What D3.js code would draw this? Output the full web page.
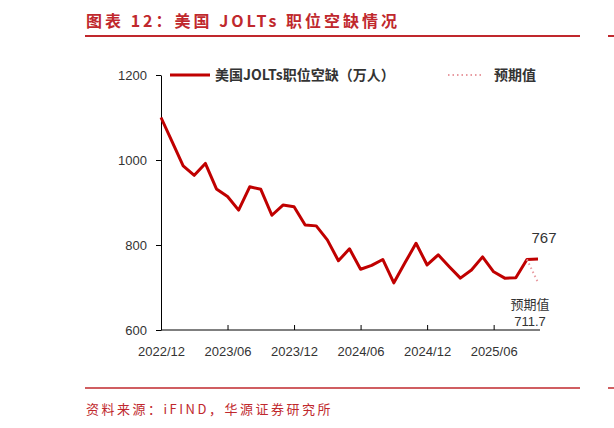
<!DOCTYPE html><html><head><meta charset="utf-8"><script src="https://cdn.jsdelivr.net/npm/d3@7"></script>
<style>body{margin:0;background:#fff}svg{font-family:"Noto Sans CJK SC",Arial,sans-serif}</style></head><body><svg id="c" width="614" height="428"></svg>
<script>
const values=[1100,1043,986,964,992,932,914,882,937,931,870,894,890,847,845,812,763,791,743,752,766,711,758,804,753,777,749,722,741,772,737,722,723,766,767];
const forecast=[766,711.7];
const tickLabels=["2022/12","2023/06","2023/12","2024/06","2024/12","2025/06"];
const yTicks=[600,800,1000,1200];
const svg=d3.select("#c");
const red="#c00000";
svg.append("text").attr("x",86).attr("y",27).attr("fill","#c0282d").attr("font-size",16).attr("font-weight","bold").attr("letter-spacing",3).text("图表 12：美国 JOLTs 职位空缺情况");
svg.append("line").attr("x1",85).attr("x2",580).attr("y1",36).attr("y2",36).attr("stroke","#c0282d").attr("stroke-width",2);
svg.append("line").attr("x1",608).attr("x2",614).attr("y1",36).attr("y2",36).attr("stroke","#c0282d").attr("stroke-width",2);
const x=d3.scaleLinear().domain([0,34]).range([161,538]);
const y=d3.scaleLinear().domain([600,1200]).range([330,75]);
const gx=svg.append("g").attr("transform","translate(0,330)").call(d3.axisBottom(x).tickValues([0,6,12,18,24,30]).tickFormat((d,i)=>tickLabels[i]).tickSize(-5).tickSizeOuter(0));
gx.select(".domain").attr("d","M161,0H540").attr("stroke","#000");
gx.selectAll("text").attr("dy","1.8em").attr("font-size",13).attr("fill","#333").attr("font-family","Arial,'Liberation Sans',sans-serif");
const gy=svg.append("g").attr("transform","translate(161,0)").call(d3.axisLeft(y).tickValues(yTicks).tickFormat(d3.format("d")).tickSize(5).tickSizeOuter(0));
gy.selectAll("text").attr("font-size",13).attr("fill","#333").attr("font-family","Arial,'Liberation Sans',sans-serif").attr("dx","-6");
const line=d3.line().x((d,i)=>x(i)).y(d=>y(d));
svg.append("path").datum(values).attr("d",line).attr("fill","none").attr("stroke",red).attr("stroke-width",3).attr("stroke-linejoin","round");
svg.append("path").datum(forecast).attr("d",d3.line().x((d,i)=>x(33+i)).y(d=>y(d))).attr("fill","none").attr("stroke","#e89aa0").attr("stroke-width",2).attr("stroke-dasharray","1.5,3");
svg.append("text").attr("x",x(34)+6).attr("y",y(767)-16).attr("text-anchor","middle").attr("font-size",15).attr("fill","#333").attr("font-family","Arial,sans-serif").text("767");
svg.append("text").attr("x",x(34)-8).attr("y",309).attr("text-anchor","middle").attr("font-size",13).attr("fill","#333").text("预期值");
svg.append("text").attr("x",x(34)-8).attr("y",326).attr("text-anchor","middle").attr("font-size",13).attr("fill","#333").attr("font-family","Arial,sans-serif").text("711.7");
svg.append("line").attr("x1",170).attr("x2",210).attr("y1",75).attr("y2",75).attr("stroke",red).attr("stroke-width",3);
svg.append("text").attr("x",215).attr("y",80).attr("font-size",14).attr("font-weight","bold").attr("fill","#333").text("美国JOLTs职位空缺（万人）");
svg.append("line").attr("x1",448).attr("x2",482).attr("y1",75).attr("y2",75).attr("stroke","#e89aa0").attr("stroke-width",2).attr("stroke-dasharray","1.5,3");
svg.append("text").attr("x",494).attr("y",80).attr("font-size",14).attr("font-weight","bold").attr("fill","#333").text("预期值");
svg.append("line").attr("x1",85).attr("x2",580).attr("y1",388).attr("y2",388).attr("stroke","#c0282d").attr("stroke-width",1.5);
svg.append("line").attr("x1",608).attr("x2",614).attr("y1",388).attr("y2",388).attr("stroke","#c0282d").attr("stroke-width",1.5);
svg.append("text").attr("x",86).attr("y",414).attr("font-size",13).attr("fill","#c0282d").attr("letter-spacing",2.5).text("资料来源：iFIND，华源证券研究所");
</script></body></html>
